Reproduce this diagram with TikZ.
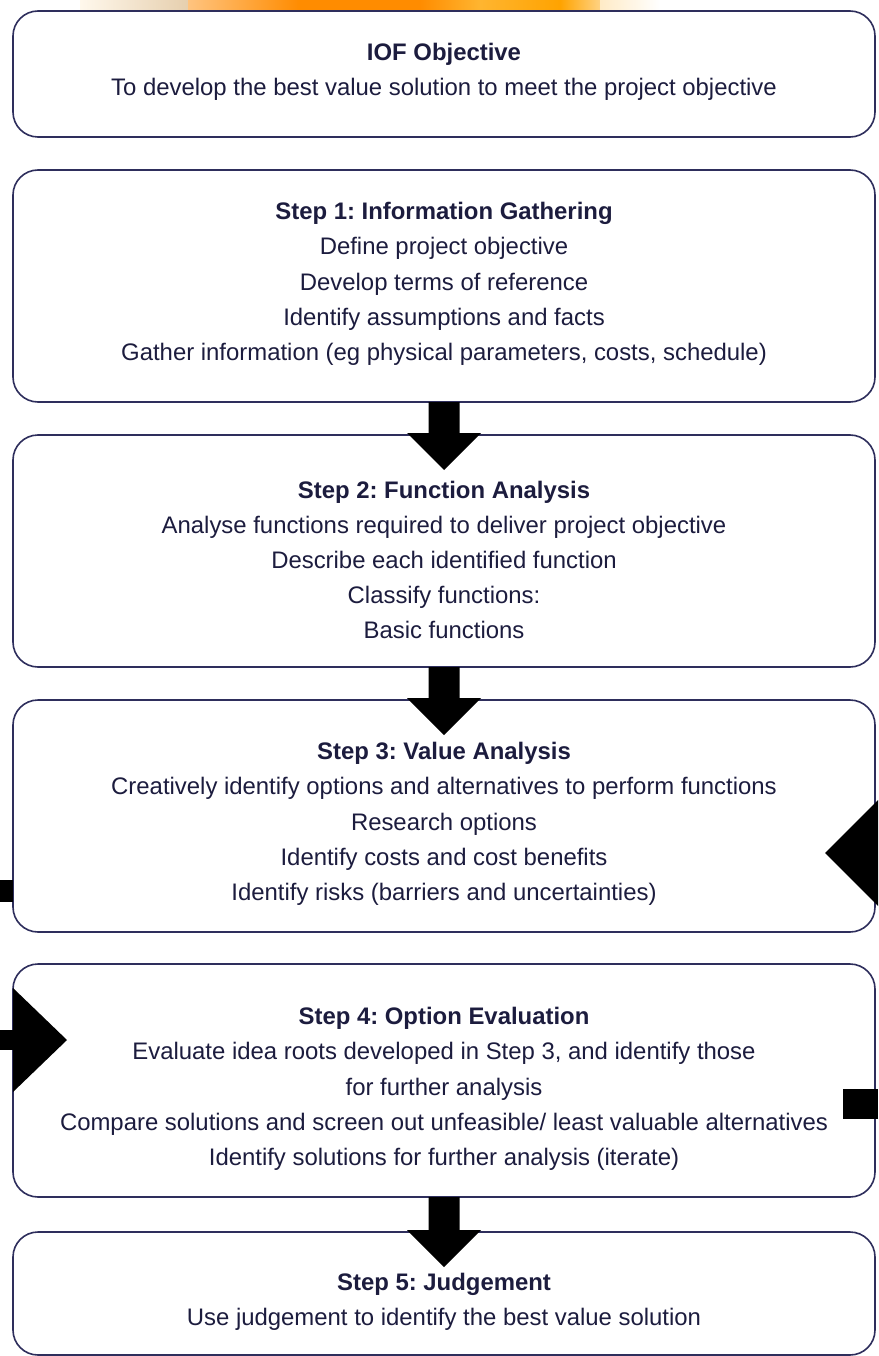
\documentclass[tikz,border=0pt]{standalone}
\usepackage{fontspec}
\setmainfont{Liberation Sans}
\usetikzlibrary{calc}
\frenchspacing
\definecolor{txtc}{HTML}{1C1C3E}
\definecolor{brd}{HTML}{2E2E5C}
\definecolor{or1}{HTML}{FF8C00}
\definecolor{or2}{HTML}{FFB530}
\definecolor{bg1}{HTML}{FFF8EC}
\definecolor{bg2}{HTML}{E6CFAE}
\newcommand\myDownArrow[2]{%
  \fill[blk] ($(#1.south)+(-15.5,0)$) -- ($(#2.north)+(-15.5,-2)$) -- ($(#2.north)+(-37,-2)$)
    -- ($(#2.north)+(0,35)$) -- ($(#2.north)+(37,-2)$) -- ($(#2.north)+(15.5,-2)$)
    -- ($(#1.south)+(15.5,0)$) -- cycle;}
\begin{document}
\begin{tikzpicture}[x=1pt,y=-1pt,
  box/.style={draw=brd,line width=1.6pt,fill=white,rounded corners=25pt,
    minimum width=862pt,inner sep=0pt,outer sep=0pt,anchor=north west},
  txt/.style={text=txtc,align=center,font=\fontsize{23.9}{35.2}\selectfont,inner sep=0pt},
  blk/.style={fill=black,draw=none}]
\useasboundingbox (0,0) rectangle (878,1356);
% orange strip at top
\shade[left color=bg1,right color=bg2] (80,0) rectangle (188,10);
\shade[left color=or1!70!orange!50,right color=or1] (188,0) rectangle (300,10);
\fill[or1] (300,0) rectangle (420,10);
\shade[left color=or1,right color=or2] (420,0) rectangle (480,10);
\shade[left color=or2,right color=or1!80!yellow] (480,0) rectangle (560,10);
\shade[left color=or1!80!yellow,right color=or2!60!white] (560,0) rectangle (600,10);
\shade[left color=bg1!80!or2,right color=white] (600,0) rectangle (660,10);
% boxes
\node[box,minimum height=126pt] (b0) at (13,11) {};
\node[box,minimum height=232pt] (b1) at (13,170) {};
\node[box,minimum height=232pt] (b2) at (13,435) {};
\node[box,minimum height=232pt] (b3) at (13,700) {};
\node[box,minimum height=233pt] (b4) at (13,964) {};
\node[box,minimum height=123pt] (b5) at (13,1232) {};
% texts
\node[txt] (t0) at (444,72) {\textbf{IOF Objective}\\To develop the best value solution to meet the project objective};
\node[txt] (t1) at (444,284) {\textbf{Step 1: Information Gathering}\\Define project objective\\Develop terms of reference\\Identify assumptions and facts\\Gather information (eg physical parameters, costs, schedule)};
\node[txt] (t2) at (444,560) {\textbf{Step 2: Function Analysis}\\Analyse functions required to deliver project objective\\Describe each identified function\\Classify functions:\\Basic functions};
\node[txt] (t3) at (444,824) {\textbf{Step 3: Value Analysis}\\Creatively identify options and alternatives to perform functions\\Research options\\Identify costs and cost benefits\\Identify risks (barriers and uncertainties)};
\node[txt] (t4) at (444,1089) {\textbf{Step 4: Option Evaluation}\\Evaluate idea roots developed in Step 3, and identify those\\for further analysis\\Compare solutions and screen out unfeasible/ least valuable alternatives\\Identify solutions for further analysis (iterate)};
\node[txt] (t5) at (444,1302) {\textbf{Step 5: Judgement}\\Use judgement to identify the best value solution};
% down arrows
\myDownArrow{b1}{b2}
\myDownArrow{b2}{b3}
\myDownArrow{b4}{b5}
% side arrow fragments
\fill[blk] ($(b3.north east)+(3,100)$) -- ($(b3.north east)+(-50,153)$) -- ($(b3.north east)+(3,206)$) -- cycle;
\fill[blk] ($(b3.south west)+(-13,-52)$) rectangle ($(b3.south west)+(0,-30)$);
\fill[blk] ($(b4.north west)+(0,24)$) -- ($(b4.north west)+(54,76)$) -- ($(b4.north west)+(0,128)$) -- cycle;
\fill[blk] ($(b4.north west)+(-13,66)$) rectangle ($(b4.north west)+(0,86)$);
\fill[blk] ($(b4.north east)+(-32,125)$) rectangle ($(b4.north east)+(3,155)$);
\end{tikzpicture}
\end{document}
